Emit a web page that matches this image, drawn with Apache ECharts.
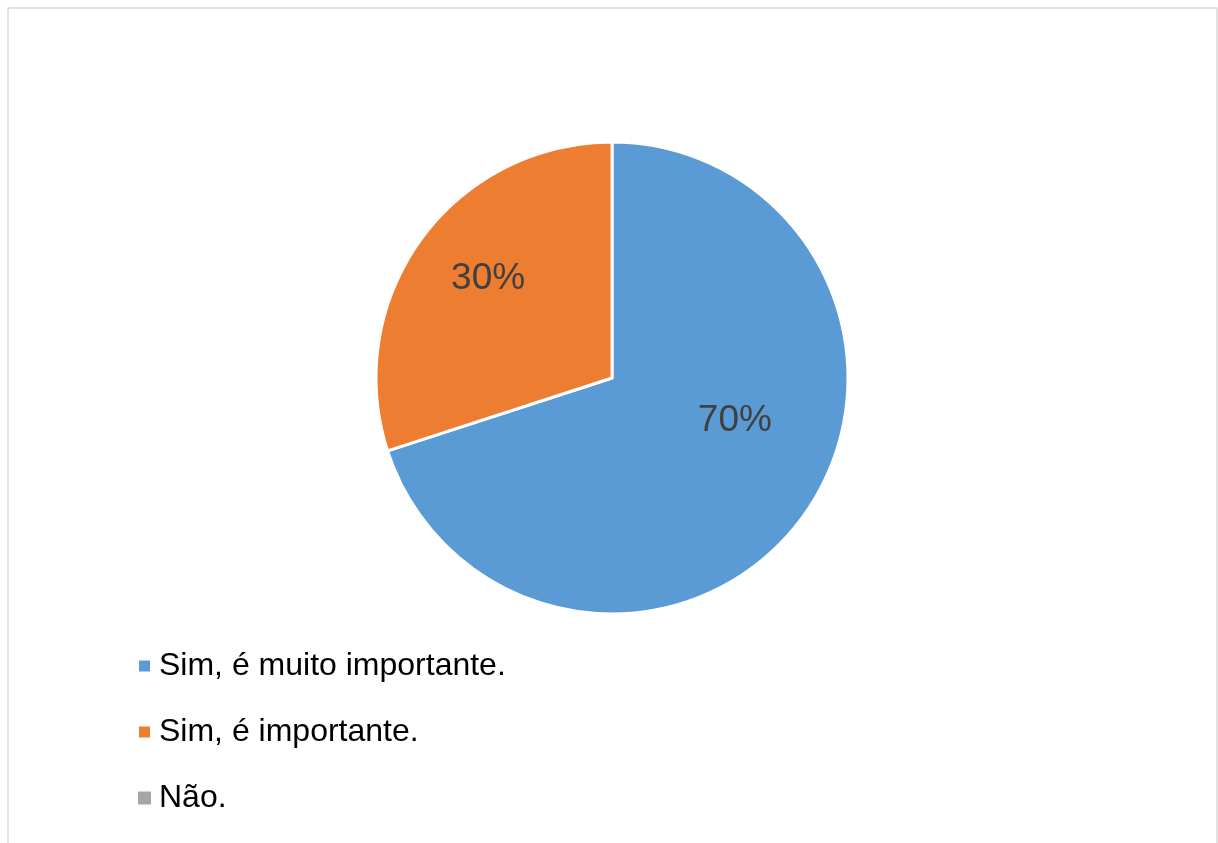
<!DOCTYPE html>
<html>
<head>
<meta charset="utf-8">
<script src="https://cdn.jsdelivr.net/npm/echarts@6/dist/echarts.min.js"></script>
<style>
  html, body { margin: 0; padding: 0; background: #fff; }
  #chart { width: 1218px; height: 843px; }
</style>
</head>
<body>
<div id="chart"></div>
<script>
// dados do gráfico
var categories = ['Sim, é muito importante.', 'Sim, é importante.', 'Não.'];
var values = [70, 30, 0];
var colors = ['#5B9BD5', '#ED7D31', '#A5A5A5'];
// deslocamento dos rótulos (estilo Excel "melhor ajuste")
var labelOffsets = [[25, -28], [-26, -28], [0, 0]];

var myChart = echarts.init(document.getElementById('chart'));

var pieData = categories.map(function (name, i) {
    return {
        name: name,
        value: values[i],
        itemStyle: { color: colors[i], borderWidth: values[i] ? 3 : 0 },
        label: { show: values[i] > 0, offset: labelOffsets[i] }
    };
});

var option = {
    backgroundColor: '#fff',
    animation: false,
    graphic: [{
        type: 'rect',
        shape: { x: 8, y: 8, width: 1209, height: 860 },
        style: { fill: 'none', stroke: '#d9d9d9', lineWidth: 1.5 },
        silent: true
    }],
    legend: {
        orient: 'vertical',
        left: 132,
        top: 645,
        icon: 'rect',
        itemWidth: 13,
        itemHeight: 13,
        itemGap: 34,
        data: categories,
        textStyle: {
            fontFamily: 'Liberation Sans, Arial, sans-serif',
            fontSize: 32,
            lineHeight: 32,
            color: '#000',
            padding: [0, 0, 0, 3]
        }
    },
    series: [{
        type: 'pie',
        center: [612, 378],
        radius: 236,
        startAngle: 90,
        clockwise: true,
        avoidLabelOverlap: false,
        itemStyle: { borderColor: '#fff' },
        label: {
            position: 'inner',
            formatter: '{d}%',
            fontFamily: 'Liberation Sans, Arial, sans-serif',
            fontSize: 37,
            color: '#404040'
        },
        labelLine: { show: false },
        emphasis: { disabled: true },
        data: pieData
    }]
};

myChart.setOption(option);
</script>
</body>
</html>
